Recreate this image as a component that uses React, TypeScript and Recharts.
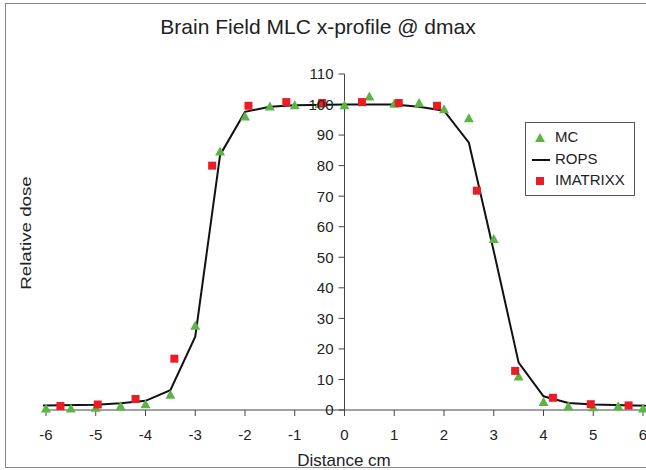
import React from "react";
import {
  ScatterChart,
  Scatter,
  XAxis,
  YAxis,
  ReferenceLine,
} from "recharts";

// MC (Monte Carlo) points
const mcX = [-6, -5.5, -5, -4.5, -4, -3.5, -3, -2.5, -2, -1.5, -1, -0.5, 0, 0.5, 1, 1.5, 2, 2.5, 3, 3.5, 4, 4.5, 5, 5.5, 6];
const mcY = [0.5, 0.5, 0.7, 1.2, 1.9, 5, 27.6, 84.6, 96.1, 99.4, 99.8, 100.2, 99.8, 102.6, 100.3, 100.5, 98.5, 95.5, 56, 11, 2.6, 1.2, 0.9, 1.2, 0.5];

// ROPS line
const ropsX = [-6.06, -5, -4.5, -4, -3.5, -3, -2.5, -2, -1.5, -1, 0, 1, 1.5, 2, 2.5, 3, 3.5, 4, 4.5, 5, 6.06];
const ropsY = [1.5, 1.7, 2.2, 3, 6.5, 24, 83.5, 97.6, 99.3, 99.8, 100, 100, 99.3, 98, 87.5, 52, 15.5, 4.5, 2.3, 1.8, 1.4];

// IMATRIXX points
const imX = [-5.71, -4.96, -4.2, -3.42, -2.66, -1.93, -1.17, -0.45, 0.35, 1.09, 1.86, 2.66, 3.43, 4.19, 4.95, 5.71];
const imY = [1.3, 1.8, 3.6, 16.8, 80, 99.6, 100.8, 100.5, 100.8, 100.5, 99.6, 71.8, 12.8, 4, 1.9, 1.5];

const xTicks = [-6, -5, -4, -3, -2, -1, 0, 1, 2, 3, 4, 5, 6];
const yTicks = [0, 10, 20, 30, 40, 50, 60, 70, 80, 90, 100, 110];

const GREEN = "#5cb444";
const RED = "#ec1c24";
const FONT = "'Liberation Sans', Arial, sans-serif";
const TEXT = "#222";

const mc = mcX.map((x, i) => ({ x, y: mcY[i] }));
const rops = ropsX.map((x, i) => ({ x, y: ropsY[i] }));
const imatrixx = imX.map((x, i) => ({ x, y: imY[i] }));

const Triangle = (props: any) => {
  const { cx, cy } = props;
  return (
    <polygon
      points={`${cx},${cy - 5} ${cx - 5},${cy + 4} ${cx + 5},${cy + 4}`}
      fill={GREEN}
    />
  );
};

const Square = (props: any) => {
  const { cx, cy } = props;
  return <rect x={cx - 4} y={cy - 4} width={8} height={8} fill={RED} />;
};

const NoDot = () => <g />;

const App = () => {
  return (
    <div
      style={{
        position: "absolute",
        left: 0,
        top: 0,
        width: 646,
        height: 470,
        overflow: "hidden",
        background: "#fff",
        fontFamily: FONT,
      }}
    >
      <div
        style={{
          position: "absolute",
          left: 5,
          top: 3,
          width: 700,
          height: 463,
          border: "1px solid #888",
        }}
      />
      <ScatterChart
        width={646}
        height={470}
        margin={{ top: 74, right: 0, bottom: 20, left: 43 }}
        style={{ position: "absolute", left: 0, top: 0 }}
      >
        <XAxis
          type="number"
          dataKey="x"
          domain={[-6.06, 6.06]}
          ticks={xTicks}
          interval={0}
          height={40}
          tickSize={6}
          tickMargin={13}
          axisLine={{ stroke: "#444" }}
          tickLine={{ stroke: "#444" }}
          tick={{ fill: TEXT, fontSize: 15, fontFamily: FONT }}
        />
        <YAxis type="number" dataKey="y" domain={[0, 110]} hide />
        <ReferenceLine
          segment={[
            { x: 0, y: 0 },
            { x: 0, y: 110 },
          ]}
          stroke="#444"
        />
        {yTicks.map((t) => (
          <ReferenceLine
            key={t}
            segment={[
              { x: -0.12, y: t },
              { x: 0, y: t },
            ]}
            stroke="#444"
            label={{
              value: String(t),
              position: "left",
              offset: 5,
              fontSize: 15,
              fill: TEXT,
              fontFamily: FONT,
            }}
          />
        ))}
        <Scatter
          name="ROPS"
          data={rops}
          line={{ stroke: "#111", strokeWidth: 2 }}
          shape={NoDot}
          isAnimationActive={false}
        />
        <Scatter
          name="MC"
          data={mc}
          shape={Triangle}
          isAnimationActive={false}
        />
        <Scatter
          name="IMATRIXX"
          data={imatrixx}
          shape={Square}
          isAnimationActive={false}
        />
      </ScatterChart>
      <div
        style={{
          position: "absolute",
          left: 318,
          top: 27,
          transform: "translate(-50%, -50%)",
          fontSize: 21,
          color: TEXT,
          whiteSpace: "nowrap",
        }}
      >
        Brain Field MLC x-profile @ dmax
      </div>
      <div
        style={{
          position: "absolute",
          left: 25,
          top: 233,
          transform: "translate(-50%, -50%) rotate(-90deg) scaleX(1.25)",
          fontSize: 15,
          color: TEXT,
          whiteSpace: "nowrap",
        }}
      >
        Relative dose
      </div>
      <div
        style={{
          position: "absolute",
          left: 344,
          top: 461,
          transform: "translate(-50%, -50%)",
          fontSize: 17,
          color: TEXT,
          whiteSpace: "nowrap",
        }}
      >
        Distance cm
      </div>
      <div
        style={{
          position: "absolute",
          left: 525,
          top: 122,
          width: 108,
          height: 72,
          border: "1px solid #555",
          background: "#fff",
          fontSize: 15,
          color: TEXT,
        }}
      >
        <svg
          width={30}
          height={72}
          style={{ position: "absolute", left: 0, top: 0 }}
        >
          <polygon points="14,10 9,19 19,19" fill={GREEN} />
          <line x1={6} y1={37} x2={24} y2={37} stroke="#111" strokeWidth={2} />
          <rect x={10} y={54} width={8} height={8} fill={RED} />
        </svg>
        <div style={{ position: "absolute", left: 29, top: 5 }}>MC</div>
        <div style={{ position: "absolute", left: 29, top: 27 }}>ROPS</div>
        <div style={{ position: "absolute", left: 29, top: 48 }}>IMATRIXX</div>
      </div>
    </div>
  );
};

export default App;
